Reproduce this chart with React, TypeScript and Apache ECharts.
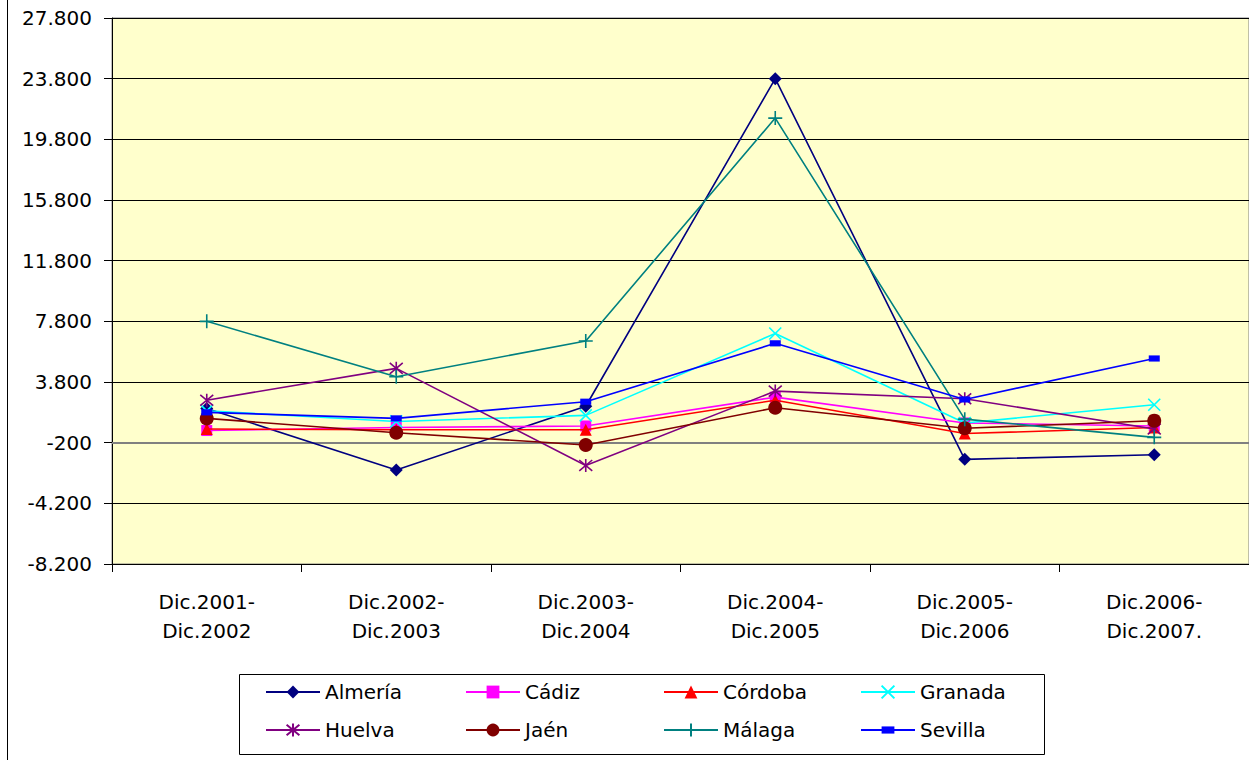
import React, { useEffect, useRef } from "react";
import * as echarts from "echarts";

const categories = [
  "Dic.2001-\nDic.2002",
  "Dic.2002-\nDic.2003",
  "Dic.2003-\nDic.2004",
  "Dic.2004-\nDic.2005",
  "Dic.2005-\nDic.2006",
  "Dic.2006-\nDic.2007.",
];

const almeria = [2050, -2000, 2200, 23800, -1300, -1000];
const cadiz = [600, 800, 900, 2800, 1100, 900];
const cordoba = [700, 650, 650, 2600, 400, 800];
const granada = [1900, 1200, 1600, 7000, 1100, 2300];
const huelva = [2600, 4700, -1700, 3200, 2700, 700];
const jaen = [1400, 450, -350, 2100, 750, 1250];
const malaga = [7800, 4150, 6500, 21200, 1350, 150];
const sevilla = [1800, 1400, 2500, 6350, 2650, 5350];

const yMin = -8200;
const yMax = 27800;
const yInterval = 4000;
const baseLineValue = -200;

const FONT = "DejaVu Sans";

const fmt = (v: number) => {
  const s = Math.abs(v).toString().replace(/\B(?=(\d{3})+(?!\d))/g, ".");
  return (v < 0 ? "-" : "") + s;
};

const seriesDefs = [
  { name: "Almería", data: almeria, color: "#000080", symbol: "diamond", size: 13 },
  { name: "Cádiz", data: cadiz, color: "#FF00FF", symbol: "rect", size: 11 },
  { name: "Córdoba", data: cordoba, color: "#FF0000", symbol: "triangle", size: 12 },
  { name: "Granada", data: granada, color: "#00FFFF", symbol: "path://M0,0L10,10M10,0L0,10", size: 12, stroke: true },
  { name: "Huelva", data: huelva, color: "#800080", symbol: "path://M0,0L10,10M10,0L0,10M5,-1L5,11", size: 13, stroke: true },
  { name: "Jaén", data: jaen, color: "#800000", symbol: "circle", size: 14 },
  { name: "Málaga", data: malaga, color: "#008080", symbol: "path://M5,0L5,10M0,5L10,5", size: 14, stroke: true },
  { name: "Sevilla", data: sevilla, color: "#0000FF", symbol: "path://M0,0M10,10M0,2.2L10,2.2L10,7.8L0,7.8Z", size: 11 },
];

const legendCols = [265, 465, 663, 860];
const legendRows = [682, 720];

export default function App() {
  const ref = useRef<HTMLDivElement>(null);
  useEffect(() => {
    if (!ref.current) return;
    const chart = echarts.init(ref.current, undefined, { renderer: "svg" });
    const series: any[] = seriesDefs.map((s, i) => ({
      name: s.name,
      type: "line",
      data: s.data,
      symbol: s.symbol,
      symbolSize: s.size,
      showSymbol: true,
      lineStyle: { color: s.color, width: 1.6 },
      itemStyle: {
        color: s.stroke ? "rgba(0,0,0,0)" : s.color,
        borderColor: s.color,
        borderWidth: s.stroke ? 1.6 : 0,
      },
      z: 3 + i,
      emphasis: { disabled: true },
    }));
    series[0].markLine = {
      silent: true,
      symbol: "none",
      label: { show: false },
      lineStyle: { color: "#808080", width: 2, type: "solid" },
      data: [{ yAxis: baseLineValue }],
      z: 1,
    };
    const legends = seriesDefs.map((s, i) => ({
      data: [s.name],
      left: legendCols[i % 4],
      top: legendRows[Math.floor(i / 4)],
      itemWidth: 54,
      itemHeight: 16,
      padding: 0,
      selectedMode: false,
      textStyle: { fontFamily: FONT, fontSize: 20, color: "#000", lineHeight: 20 },
    }));
    chart.setOption({
      animation: false,
      backgroundColor: "#FFFFFF",
      grid: {
        left: 112,
        right: -3,
        top: 18,
        bottom: 196,
        show: true,
        backgroundColor: "#FFFFCC",
        borderColor: "#808080",
        borderWidth: 1,
      },
      xAxis: {
        type: "category",
        data: categories,
        boundaryGap: true,
        axisLine: { onZero: false, lineStyle: { color: "#000", width: 1 } },
        axisTick: { show: true, length: 8, lineStyle: { color: "#000" } },
        axisLabel: {
          fontFamily: FONT,
          fontSize: 20,
          color: "#000",
          lineHeight: 29,
          margin: 23,
          interval: 0,
        },
      },
      yAxis: {
        type: "value",
        min: yMin,
        max: yMax,
        interval: yInterval,
        axisLine: { show: true, lineStyle: { color: "#000", width: 1 } },
        axisTick: { show: true, length: 8, lineStyle: { color: "#000" } },
        splitLine: { show: true, lineStyle: { color: "#000", width: 1 } },
        axisLabel: {
          fontFamily: FONT,
          fontSize: 20,
          color: "#000",
          margin: 20,
          formatter: fmt,
        },
      },
      legend: legends,
      graphic: [
        {
          type: "line",
          shape: { x1: 7.5, y1: 0, x2: 7.5, y2: 760 },
          style: { stroke: "#000", lineWidth: 1 },
          silent: true,
        },
        {
          type: "rect",
          left: 237,
          top: 672,
          shape: { width: 805, height: 80 },
          style: { fill: "none", stroke: "#000", lineWidth: 1 },
          silent: true,
          z: -1,
        },
      ],
      series,
    });
    return () => chart.dispose();
  }, []);
  return (
    <div
      ref={ref}
      style={{ position: "absolute", left: 0, top: 0, width: 1249, height: 760 }}
    />
  );
}
